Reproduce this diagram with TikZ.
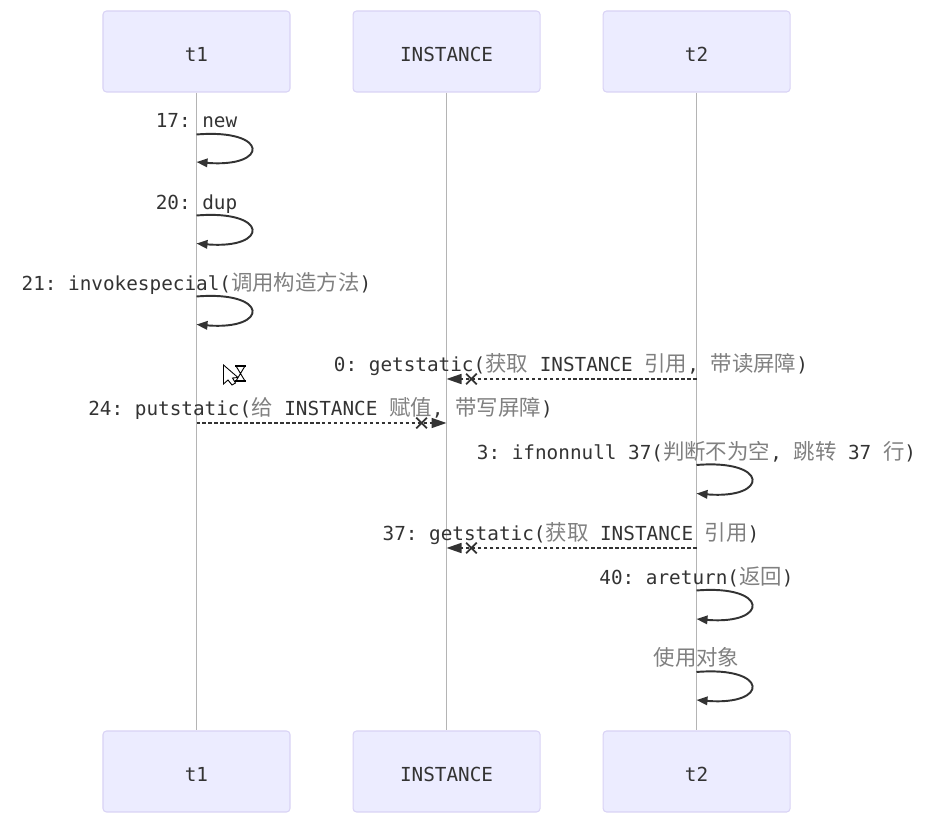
\documentclass[tikz,border=0pt]{standalone}
\usepackage{fontspec}
\setmonofont{DejaVu Sans Mono}
\newfontfamily\cjkfont{Noto Sans CJK SC}
\usetikzlibrary{arrows.meta, positioning}
\definecolor{actorfill}{HTML}{ECECFF}
\definecolor{actorline}{HTML}{D9D3F5}
\definecolor{lifegrey}{HTML}{B4B4B4}
\definecolor{cdark}{HTML}{333333}
\definecolor{cnote}{HTML}{808080}
\newcommand{\cn}[1]{{\cjkfont\fontsize{12.2pt}{14pt}\selectfont\color{cnote}#1}}
\tikzset{
  every picture/.style={font=\ttfamily\fontsize{11pt}{13pt}\selectfont, text=cdark},
  actor/.style={draw=actorline, fill=actorfill, rounded corners=2pt, line width=0.6pt, minimum width=3.74cm, minimum height=1.62cm, text depth=0cm, text height=0.4cm},
  life/.style={draw=lifegrey, line width=0.6pt},
  msg/.style={anchor=base, inner sep=0pt},
  selfcall/.style={draw=cdark, line width=1.1pt, -{Triangle[length=2.2mm, width=1.7mm]},
    to path={.. controls +(1.46,0.12) and +(1.46,-0.12) .. (\tikztotarget)}},
  lostcall/.style={draw=cdark, line width=0.9pt, dash pattern=on 2pt off 1.4pt,
    -{Rays[n=4, length=3mm, width=3mm, line width=1pt, sep=0.8mm] Triangle[length=3mm, width=2mm, sep=0pt]}},
}
\begin{document}
\begin{tikzpicture}[node distance=1.24cm]
  \useasboundingbox (0, 0) rectangle (18.52, -16.46);
  \node[actor] (t1) at (3.93, -1.03) {t1};
  \node[actor, right=of t1] (inst) {INSTANCE};
  \node[actor, right=of inst] (t2) {t2};
  \node[actor] (t1b) at (3.93, -15.43) {t1};
  \node[actor, right=of t1b] (instb) {INSTANCE};
  \node[actor, right=of instb] (t2b) {t2};
  \draw[life] (t1) -- (t1b);
  \draw[life] (inst) -- (instb);
  \draw[life] (t2) -- (t2b);

  \node[msg] (m17) at (3.93, -2.56) {17: new};
  \node[msg] (m20) at (3.93, -4.19) {20: dup};
  \node[msg] (m21) at (3.93, -5.82) {21: invokespecial(\cn{调用构造方法})};
  \node[msg] (m0) at (11.42, -7.44) {0: getstatic(\cn{获取} INSTANCE \cn{引用}, \cn{带读屏障})};
  \node[msg] (m24) at (6.41, -8.32) {24: putstatic(\cn{给} INSTANCE \cn{赋值}, \cn{带写屏障})};
  \node[msg] (m3) at (13.93, -9.2) {3: ifnonnull 37(\cn{判断不为空}, \cn{跳转} 37 \cn{行})};
  \node[msg] (m37) at (11.42, -10.82) {37: getstatic(\cn{获取} INSTANCE \cn{引用})};
  \node[msg] (m40) at (13.93, -11.7) {40: areturn(\cn{返回})};
  \node[msg] (muse) at (13.93, -13.32) {\cn{使用对象}};

  \coordinate (a1) at (3.93, -2.69); \coordinate (a2) at (3.93, -3.24);
  \coordinate (b1) at (3.93, -4.31); \coordinate (b2) at (3.93, -4.87);
  \coordinate (c1) at (3.93, -5.93); \coordinate (c2) at (3.93, -6.49);
  \coordinate (d1) at (13.93, -9.3); \coordinate (d2) at (13.93, -9.87);
  \coordinate (e1) at (13.93, -11.81); \coordinate (e2) at (13.93, -12.38);
  \coordinate (f1) at (13.93, -13.44); \coordinate (f2) at (13.93, -14.0);
  \draw[selfcall] (a1) to (a2);
  \draw[selfcall] (b1) to (b2);
  \draw[selfcall] (c1) to (c2);
  \draw[selfcall] (d1) to (d2);
  \draw[selfcall] (e1) to (e2);
  \draw[selfcall] (f1) to (f2);

  \coordinate (g1) at (13.93, -7.58); \coordinate (g2) at (8.93, -7.58);
  \coordinate (h1) at (3.93, -8.46); \coordinate (h2) at (8.93, -8.46);
  \coordinate (k1) at (13.93, -10.96); \coordinate (k2) at (8.93, -10.96);
  \draw[lostcall] (g1) -- (g2);
  \draw[lostcall] (h1) -- (h2);
  \draw[lostcall] (k1) -- (k2);

  \draw[fill=white, line width=0.5pt] (4.47, -7.3) -- (4.47, -7.68) -- (4.56, -7.6) -- (4.64, -7.7) -- (4.71, -7.66) -- (4.65, -7.56) -- (4.76, -7.55) -- cycle;
  \draw[fill=white, line width=0.5pt] (4.72, -7.32) -- (4.9, -7.32) -- (4.72, -7.62) -- (4.9, -7.62) -- cycle;
  \draw[line width=0.9pt] (4.7, -7.32) -- (4.92, -7.32) (4.7, -7.62) -- (4.92, -7.62);
\end{tikzpicture}
\end{document}
